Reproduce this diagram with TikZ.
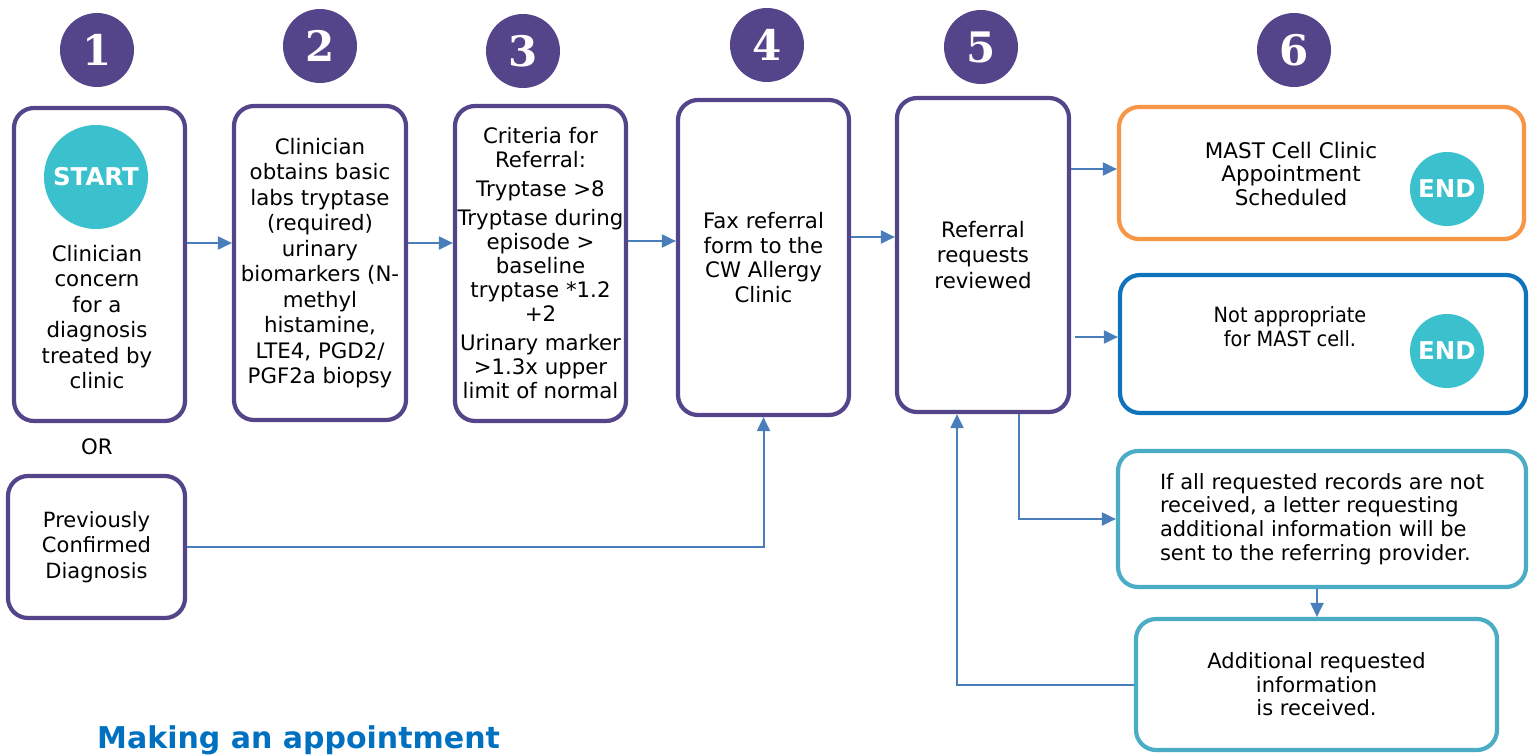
\documentclass[tikz,border=0pt]{standalone}
\usepackage{fontspec}
\setmainfont{DejaVu Sans}
\newfontfamily\numfont{DejaVu Serif}
\newfontfamily\narrowfont{DejaVu Sans}[FakeStretch=0.92]
\usetikzlibrary{arrows.meta}
\definecolor{purp}{HTML}{54458A}
\definecolor{teal}{HTML}{3BC1CD}
\definecolor{orng}{HTML}{F79646}
\definecolor{dblue}{HTML}{0E75BC}
\definecolor{lblue}{HTML}{4BACC6}
\definecolor{arrc}{HTML}{4A7EBB}
\definecolor{ttl}{HTML}{0070C0}
\tikzset{
  box/.style={draw=purp, line width=4.2pt, rounded corners=20pt, fill=white, inner sep=0pt, align=center,
    font=\fontsize{21.3}{25.5}\selectfont},
  numc/.style={circle, fill=purp, minimum size=74pt, inner sep=0pt, text=white,
    font=\numfont\bfseries\fontsize{42}{42}\selectfont},
  tealc/.style={circle, fill=teal, inner sep=0pt, text=white, font=\bfseries\fontsize{24.5}{24.5}\selectfont},
  txt/.style={align=center, inner sep=0pt, font=\fontsize{21.3}{25.5}\selectfont},
  arr/.style={draw=arrc, line width=2pt, -{Triangle[length=14pt,width=13pt]}},
}
\begin{document}
\begin{tikzpicture}[x=1pt,y=-1pt]
\useasboundingbox (0,0) rectangle (1536,755);

% number circles
\node[numc] (n1) at (97,50) {1};
\node[numc] (n2) at (320,46) {2};
\node[numc] (n3) at (523,51) {3};
\node[numc] (n4) at (767,45) {4};
\node[numc] (n5) at (981,47) {5};
\node[numc] (n6) at (1294,50) {6};

% boxes
\node[box, minimum width=171pt, minimum height=313pt] (b1) at (99.5,264.5) {};
\node[tealc, minimum size=104pt] (start) at (96,177) {START};
\node[txt] (t1) at (97,317) {Clinician\\concern\\for a\\diagnosis\\treated by\\clinic};

\node[box, minimum width=172pt, minimum height=314pt] (b2) at (320,263)
  {Clinician\\obtains basic\\labs tryptase\\(required)\\urinary\\biomarkers (N-\\methyl\\histamine,\\LTE4, PGD2/\\PGF2a biopsy};

\node[box, minimum width=171pt, minimum height=315pt, font=\fontsize{21.3}{24}\selectfont] (b3) at (540.5,263.5)
  {Criteria for\\Referral:\\[5pt]Tryptase >8\\[5pt]Tryptase during\\episode >\\baseline\\tryptase *1.2\\+2\\[5pt]Urinary marker\\>1.3x upper\\limit of normal};

\node[box, minimum width=171pt, minimum height=315pt, font=\fontsize{21.3}{24.5}\selectfont] (b4) at (763.5,257.5)
  {Fax referral\\form to the\\CW Allergy\\Clinic};

\node[box, minimum width=172pt, minimum height=314pt] (b5) at (983,255)
  {Referral\\requests\\reviewed};

\node[box, draw=orng, minimum width=405pt, minimum height=132pt] (b6) at (1321.5,173) {};
\node[txt, font=\fontsize{21.5}{23.5}\selectfont] (t6) at (1291,173.5) {MAST Cell Clinic\\Appointment\\Scheduled};
\node[tealc, minimum size=74pt] (end1) at (1447,189) {END};

\node[box, draw=dblue, minimum width=406pt, minimum height=138pt] (b7) at (1323,344) {};
\node[txt, font=\narrowfont\fontsize{21}{24}\selectfont] (t7) at (1290,327) {Not appropriate\\for MAST cell.};
\node[tealc, minimum size=74pt] (end2) at (1447,351) {END};

\node[box, draw=lblue, minimum width=408pt, minimum height=136pt, align=left,
  font=\fontsize{21}{23.7}\selectfont] (b8) at (1322,519)
  {If all requested records are not\\received, a letter requesting\\additional information will be\\sent to the referring provider.};

\node[box, draw=lblue, minimum width=361pt, minimum height=131pt, font=\fontsize{21}{23.5}\selectfont] (b9) at (1316.5,684.5)
  {Additional requested\\information\\is received.};

\node[box, minimum width=177pt, minimum height=142pt, font=\fontsize{21}{25.5}\selectfont] (pv) at (96.5,547)
  {Previously\\Confirmed\\Diagnosis};

\node[txt] (or) at (97,447) {OR};

\node[anchor=base west, inner sep=0pt, text=ttl, font=\bfseries\fontsize{30}{30}\selectfont] (title) at (97,748) {Making an appointment};

% connectors
\coordinate (y1) at (0,243);
\coordinate (y3) at (0,241);
\coordinate (y4) at (0,237);
\coordinate (y5a) at (0,169);
\coordinate (y5b) at (0,337);
\coordinate (x5a) at (1019,0);
\coordinate (x5b) at (957,0);
\coordinate (x8) at (1317,0);

\draw[arr] (b1.east |- y1) -- (b2.west |- y1);
\draw[arr] (b2.east |- y1) -- (b3.west |- y1);
\draw[arr] (b3.east |- y3) -- (b4.west |- y3);
\draw[arr] (b4.east |- y4) -- (b5.west |- y4);
\draw[arr] (b5.east |- y5a) -- (b6.west |- y5a);
\draw[arr] ([xshift=4pt]b5.east |- y5b) -- (b7.west |- y5b);
\draw[arr] (b5.south -| x5a) |- (b8.west);
\draw[arr] (b8.south -| x8) -- (b9.north -| x8);
\draw[arr] (b9.west) -| (b5.south -| x5b);
\draw[arr] (pv.east) -| (b4.south);
\end{tikzpicture}
\end{document}
